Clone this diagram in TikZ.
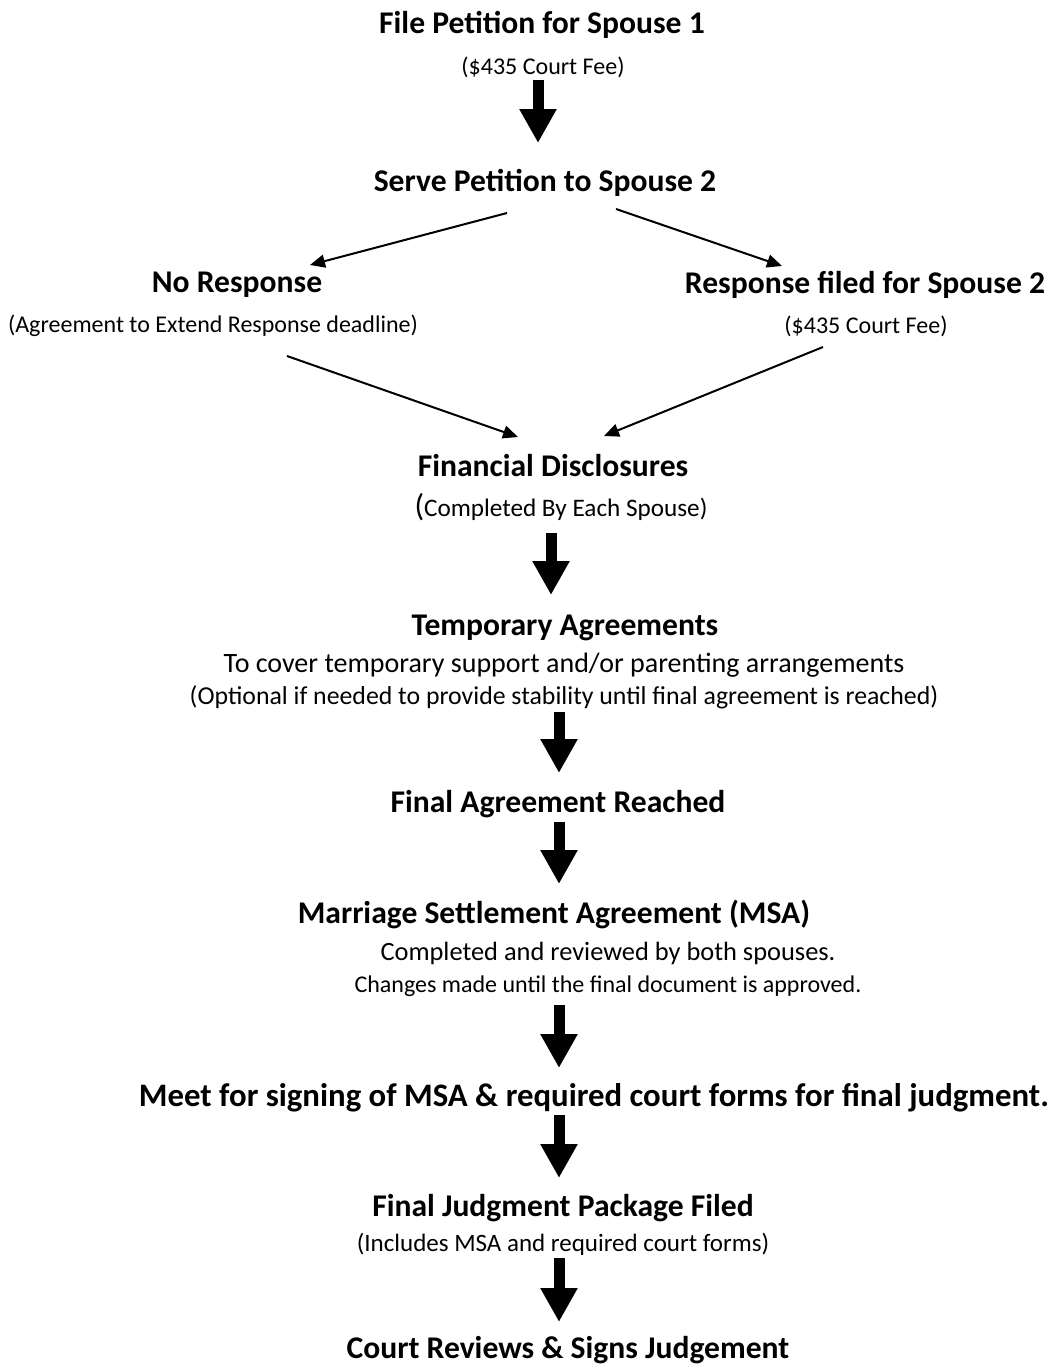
\documentclass[tikz,border=0pt]{standalone}
\usepackage{fontspec}
\setmainfont{Carlito}
\usetikzlibrary{arrows.meta}

\begin{document}
\begin{tikzpicture}[
    x=0.5pt, y=-0.5pt,
    title/.style={font=\bfseries\fontsize{15.8}{19}\selectfont, inner sep=0pt},
    sub/.style={font=\fontsize{12}{16}\selectfont, inner sep=0pt, align=center},
    bigarrow/.style={line width=5.5pt, -{Triangle[width=17.5pt, length=17pt]}},
    thinarrow/.style={line width=1pt, -{Triangle[width=6.5pt, length=7.5pt]}}
]
\useasboundingbox (0,0) rectangle (1055,1365);

% Steps
\node[title] (file) at (542,25) {File Petition for Spouse 1};
\node[sub] (filefee) at (543,67) {(\$435 Court Fee)};
\node[title] (serve) at (545,183) {Serve Petition to Spouse 2};
\node[title] (noresp) at (237,285) {No Response};
\node[sub] (norespsub) at (213,326) {(Agreement to Extend Response deadline)};
\node[title] (resp) at (865,285) {Response filed for Spouse 2};
\node[sub] (respfee) at (866,326) {(\$435 Court Fee)};
\node[title] (fd) at (553,466) {Financial Disclosures};
\node[sub, font=\fontsize{12.6}{16}\selectfont] (fdsub) at (561,507) {{\fontsize{15.8}{19}\selectfont(}Completed By Each Spouse)};
\node[title] (temp) at (565,628) {Temporary Agreements};
\node[sub, font=\fontsize{12.9}{16}\selectfont] (tempsub) at (564,681)
    {{\fontsize{14}{16}\selectfont To cover temporary support and/or parenting arrangements}\\(Optional if needed to provide stability until final agreement is reached)};
\node[title] (final) at (558,804) {Final Agreement Reached};
\node[title] (msa) at (554,914) {Marriage Settlement Agreement (MSA)};
\node[sub] (msasub) at (608,969)
    {{\fontsize{13.2}{16}\selectfont Completed and reviewed by both spouses.}\\Changes made until the final document is approved.};
\node[title, font=\bfseries\fontsize{16.4}{20}\selectfont] (meet) at (594,1098) {Meet for signing of MSA \& required court forms for final judgment.};
\node[title] (pkg) at (563,1208) {Final Judgment Package Filed};
\node[sub, font=\fontsize{12.5}{16}\selectfont] (pkgsub) at (563,1244) {(Includes MSA and required court forms)};
\node[title] (court) at (568,1350) {Court Reviews \& Signs Judgement};

% Arrow ends
\coordinate (a1s) at (538,80);   \coordinate (a1e) at (538,143);
\coordinate (a2s) at (551,533);  \coordinate (a2e) at (551,595);
\coordinate (a3s) at (559,712);  \coordinate (a3e) at (559,773);
\coordinate (a4s) at (559,822);  \coordinate (a4e) at (559,884);
\coordinate (a5s) at (559,1005); \coordinate (a5e) at (559,1068);
\coordinate (a6s) at (559,1115); \coordinate (a6e) at (559,1178);
\coordinate (a7s) at (559,1258); \coordinate (a7e) at (559,1322);

\coordinate (b1s) at (507,213);  \coordinate (b1e) at (310,265);
\coordinate (b2s) at (616,209);  \coordinate (b2e) at (782,266);
\coordinate (b3s) at (287,356);  \coordinate (b3e) at (518,437);
\coordinate (b4s) at (823,347);  \coordinate (b4e) at (604,436);

% Thick arrows
\foreach \a in {a1,a2,a3,a4,a5,a6,a7}
    \draw[bigarrow] (\a s) -- (\a e);

% Branch arrows
\foreach \b in {b1,b2,b3,b4}
    \draw[thinarrow] (\b s) -- (\b e);

\end{tikzpicture}
\end{document}
